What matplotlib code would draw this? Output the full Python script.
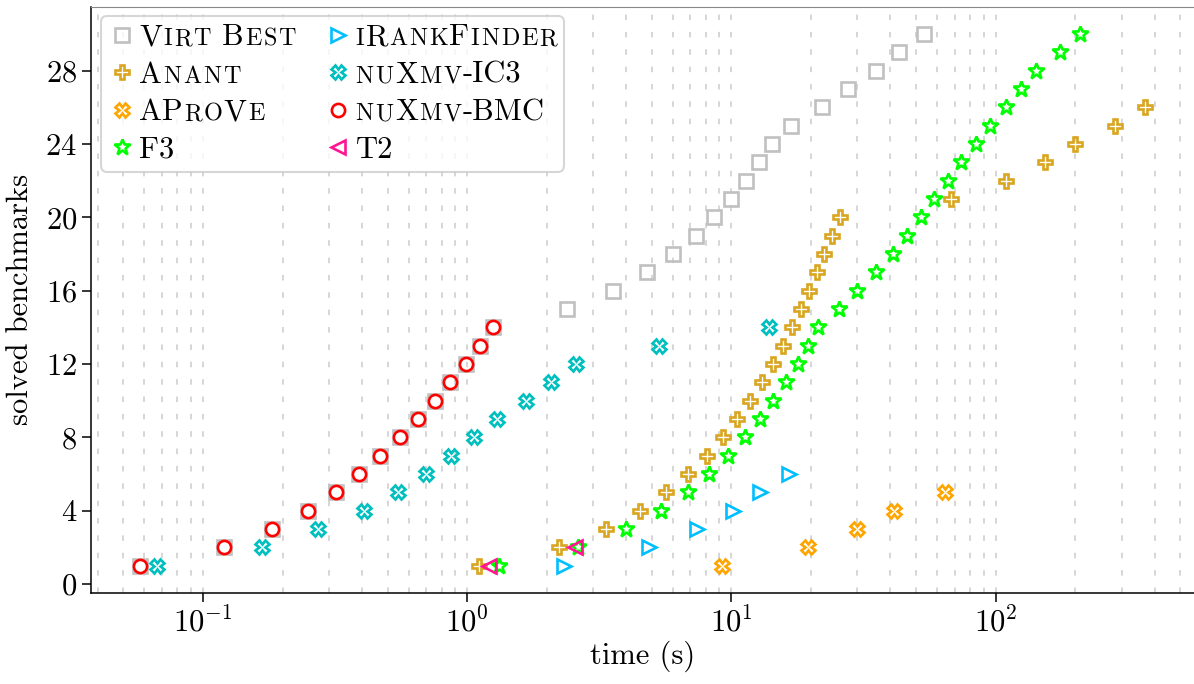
import matplotlib
matplotlib.use("Agg")
import matplotlib.pyplot as plt
from matplotlib.offsetbox import TextArea, HPacker
from matplotlib.ticker import LogLocator

plt.rcParams['font.family'] = 'serif'
plt.rcParams['font.serif'] = ['cmr10']
plt.rcParams['mathtext.fontset'] = 'cm'
plt.rcParams['axes.formatter.use_mathtext'] = True
plt.rcParams['lines.scale_dashes'] = False

FS = 22

# ---------------- data (time in seconds; y = number of solved benchmarks) ----------
bmc_t = [0.0577, 0.1204, 0.1830, 0.2504, 0.3188, 0.3905, 0.4677, 0.5566, 0.6514,
         0.7574, 0.8607, 0.9896, 1.115, 1.255]
virt_t = bmc_t + [2.38, 3.555, 4.78, 6.03, 7.32, 8.62, 9.97, 11.32, 12.68, 14.2,
                  16.8, 22.0, 27.7, 35.2, 43.1, 53.4]
anant_t = [1.104, 2.230, 3.350, 4.516, 5.667, 6.845, 8.077, 9.31, 10.49, 11.78,
           13.08, 14.36, 15.66, 16.99, 18.33, 19.70, 21.07, 22.51, 24.07, 25.81,
           67.73, 109.7, 154.1, 200.1, 283.6, 368.3]
aprove_t = [9.205, 19.48, 29.94, 41.33, 64.45]
f3_t = [1.322, 2.624, 3.998, 5.410, 6.822, 8.262, 9.700, 11.25, 12.85, 14.43,
        16.12, 17.85, 19.48, 21.31, 25.59, 30.01, 35.24, 40.86, 46.40, 52.16,
        58.71, 65.98, 73.88, 84.22, 95.41, 109.4, 124.6, 142.5, 174.6, 209.0]
irank_t = [2.335, 4.885, 7.442, 10.10, 12.82, 16.45]
ic3_t = [0.0668, 0.1668, 0.2732, 0.4077, 0.5455, 0.6965, 0.866, 1.058, 1.300,
         1.674, 2.081, 2.581, 5.335, 13.91]
t2_t = [1.214, 2.548]

labels = ["Virt Best", "Anant", "AProVe", "F3", "iRankFinder", "nuXmv-IC3",
          "nuXmv-BMC", "T2"]
series = [virt_t, anant_t, aprove_t, f3_t, irank_t, ic3_t, bmc_t, t2_t]
colors = ["#c0c0c0", "#DAA520", "#FFA500", "#00FF00", "#00BFFF", "#00BFBF",
          "#FF0000", "#FF1493"]
markers = ["s", "P", "X", "*", ">", "X", "o", "<"]
msizes = [9.5, 9.5, 9.5, 12.0, 9.5, 9.5, 9.5, 9.5]

yticks = [0, 4, 8, 12, 16, 20, 24, 28]

# ---------------- figure ----------------
fig = plt.figure(figsize=(11.94, 6.84), dpi=100)
ax = fig.add_axes([91 / 1194, 1 - 593 / 684, 1 - 91 / 1194, (593 - 6.5) / 684])

for t, lab, c, m, ms in zip(series, labels, colors, markers, msizes):
    ax.plot(t, list(range(1, len(t) + 1)), ls='none', marker=m, ms=ms, mew=1.9,
            mfc='none', mec=c, label=lab)

ax.set_xscale('log')
ax.set_xlim(0.03768, 563.6)
ax.set_ylim(-0.49, 31.5)
ax.set_yticks(yticks)
ax.xaxis.set_minor_locator(LogLocator(base=10, subs=range(2, 10), numticks=20))
ax.grid(True, axis='x', which='both', color='#cccccc', lw=1.1,
        dashes=(4.0, 8.5))
ax.set_axisbelow(True)
ax.tick_params(axis='x', which='minor', length=0)
ax.tick_params(axis='both', which='major', direction='out', length=6.5, width=1.1,
               labelsize=FS, color='black')
ax.spines['right'].set_visible(False)
ax.spines['top'].set_color('#888888')
for s in ['left', 'bottom']:
    ax.spines[s].set_linewidth(1.1)

ax.set_xlabel('time (s)', fontsize=FS, labelpad=2)
ax.set_ylabel('solved benchmarks', fontsize=FS, labelpad=8)

leg = ax.legend(loc='upper left', ncol=2, fontsize=FS, frameon=True, fancybox=True,
                edgecolor='#cccccc', framealpha=0.8, handlelength=0.89,
                handletextpad=0.12, columnspacing=0.95, labelspacing=0.33,
                borderpad=0.25, borderaxespad=0.32, numpoints=1)
leg.get_frame().set_linewidth(1.5)

SMALL = 0.79
LETTER_SEP = 1.2  # points between small-cap letters


def small_caps_box(label, size):
    parts = []
    cur, cur_small = "", None
    for ch in label:
        small = ch.islower()
        if cur_small is None or small == cur_small:
            cur += ch
            cur_small = small
        else:
            parts.append((cur, cur_small))
            cur, cur_small = ch, small
    parts.append((cur, cur_small))
    boxes = []
    for txt, small in parts:
        if small:
            letters = [TextArea(ch.upper(), textprops=dict(fontsize=size * SMALL,
                                                           family='serif', color='black'))
                       for ch in txt]
            boxes.append(HPacker(children=letters, align='baseline', pad=0,
                                 sep=LETTER_SEP))
        else:
            boxes.append(TextArea(txt, textprops=dict(fontsize=size, family='serif',
                                                      color='black')))
    return HPacker(children=boxes, align='baseline', pad=0, sep=LETTER_SEP * 0.8)


for col in leg._legend_handle_box.get_children():
    for row in col.get_children():
        ta = row.get_children()[1]
        lab = ta.get_text()
        box = small_caps_box(lab, FS)
        box.set_figure(fig)
        row._children[1] = box

fig.savefig('out.png', dpi=100)
